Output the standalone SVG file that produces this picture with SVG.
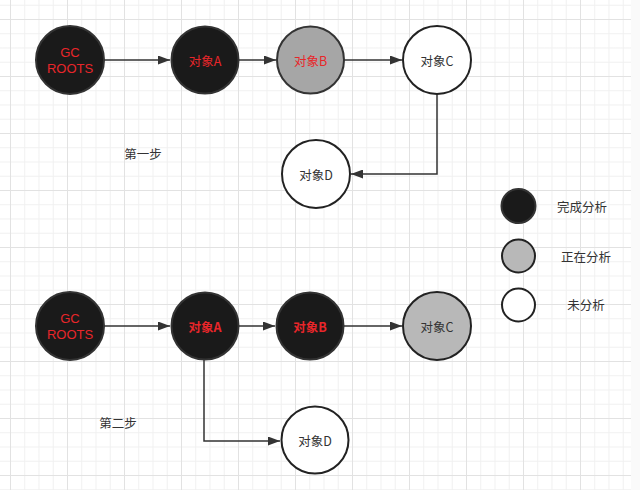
<svg xmlns="http://www.w3.org/2000/svg" width="640" height="490" viewBox="0 0 640 490">
<defs>
<pattern id="minor" x="10" y="19" width="14.25" height="14.25" patternUnits="userSpaceOnUse">
<path d="M0 0.5H14.25M0.5 0V14.25" fill="none" stroke="#f0f0f0" stroke-width="1"/>
</pattern>
<pattern id="major" x="10" y="19" width="57" height="57" patternUnits="userSpaceOnUse">
<path d="M0 0.5H57M0.5 0V57" fill="none" stroke="#e2e2e2" stroke-width="1"/>
</pattern>
<marker id="arr" viewBox="0 0 12 9" refX="12" refY="4.5" markerWidth="12" markerHeight="9" markerUnits="userSpaceOnUse" orient="auto">
<path d="M0 0L12 4.5L0 9Z" fill="#333"/>
</marker>
</defs>
<style>
.t{font-family:"Noto Sans CJK SC","Liberation Sans",sans-serif;font-size:12.5px;text-anchor:middle;dominant-baseline:central;fill:#333}
.r{fill:#e8262a}
.g{font-family:"Liberation Sans","Noto Sans",sans-serif;font-size:13px}
.b{font-weight:bold}
.blk{fill:#1a1a1a;stroke:#333;stroke-width:2}
.gry{fill:#a6a6a6;stroke:#333;stroke-width:2}
.gry2{fill:#b8b8b8;stroke:#222;stroke-width:2}
.wht{fill:#fff;stroke:#222;stroke-width:2}
.c{fill:none;stroke:#333;stroke-width:1.5;marker-end:url(#arr)}
</style>
<rect width="640" height="490" fill="#fafafa"/>
<rect width="631" height="490" fill="#fff"/>
<rect width="631" height="490" fill="url(#minor)"/>
<rect width="631" height="490" fill="url(#major)"/>

<g id="connectors">
<path class="c" d="M104 60H170"/>
<path class="c" d="M238 60H276"/>
<path class="c" d="M344 60H402"/>
<path class="c" d="M437 94V174H351"/>
<path class="c" d="M104 326H170"/>
<path class="c" d="M238 326H275"/>
<path class="c" d="M344 326H402"/>
<path class="c" d="M204 360V441H280"/>
</g>

<g id="s1-gc"><circle class="blk" cx="70" cy="60" r="34"/><text class="t r g" x="70" y="52">GC</text><text class="t r g" x="70" y="68">ROOTS</text></g>
<g id="s1-a"><circle class="blk" cx="205" cy="60" r="33.5"/><text class="t r" x="205" y="60">对象A</text></g>
<g id="s1-b"><circle class="gry" cx="310.5" cy="60" r="33.5"/><text class="t r" x="310.5" y="60">对象B</text></g>
<g id="s1-c"><circle class="wht" cx="437" cy="60" r="34"/><text class="t" x="437" y="60">对象C</text></g>
<g id="s1-d"><circle class="wht" cx="316" cy="174" r="34"/><text class="t" x="316" y="174">对象D</text></g>
<g id="s1-label"><text class="t" x="143" y="153">第一步</text></g>

<g id="s2-gc"><circle class="blk" cx="70" cy="326" r="34"/><text class="t r g" x="70" y="318">GC</text><text class="t r g" x="70" y="334">ROOTS</text></g>
<g id="s2-a"><circle class="blk" cx="205" cy="326" r="33.5"/><text class="t r b" x="205" y="326">对象A</text></g>
<g id="s2-b"><circle class="blk" cx="310" cy="326" r="33.5"/><text class="t r b" x="310" y="326">对象B</text></g>
<g id="s2-c"><circle class="gry2" cx="437" cy="326" r="34"/><text class="t" x="437" y="326">对象C</text></g>
<g id="s2-d"><circle class="wht" cx="315" cy="440" r="33.5"/><text class="t" x="315" y="440">对象D</text></g>
<g id="s2-label"><text class="t" x="118" y="422">第二步</text></g>

<g id="legend-done"><circle class="blk" cx="518.5" cy="206" r="17"/><text class="t" x="582" y="206">完成分析</text></g>
<g id="legend-doing"><circle class="gry2" cx="518.5" cy="256" r="16.5"/><text class="t" x="586" y="256">正在分析</text></g>
<g id="legend-todo"><circle class="wht" cx="518.5" cy="305" r="16.5"/><text class="t" x="586" y="304">未分析</text></g>
</svg>
